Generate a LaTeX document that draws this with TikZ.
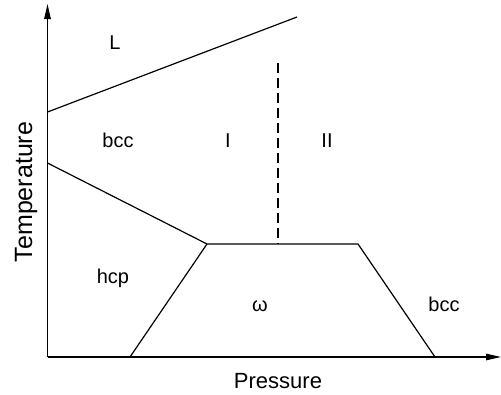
\documentclass[tikz,border=0pt]{standalone}
\usepackage{fontspec}
\setmainfont{Liberation Sans}
\usetikzlibrary{arrows.meta}
\begin{document}
\begin{tikzpicture}[x=1pt,y=-1pt,
  lbl/.style={font=\fontsize{20}{22}\selectfont, inner sep=0pt, anchor=base},
  axl/.style={font=\fontsize{22}{24}\selectfont, inner sep=0pt, anchor=base},
  ln/.style={line width=1.2pt},
  ax/.style={line width=1.2pt,-{Triangle[length=15pt,width=6.5pt]}}]
\useasboundingbox (0,0) rectangle (501,394);
\coordinate (O) at (47.5,357);
\coordinate (Ytop) at (47.5,4);
\coordinate (Xend) at (501,357);
\draw[ax] (O) -- (Ytop);
\draw[ax] (O) -- (Xend);
\coordinate (L1) at (47.5,112);
\coordinate (L2) at (297,17);
\coordinate (B1) at (47.5,163);
\coordinate (T1) at (207,244);
\coordinate (T2) at (358,244);
\coordinate (F1) at (130,357);
\coordinate (F2) at (435,357);
\coordinate (D1) at (278,63);
\coordinate (D2) at (278,244);
\draw[ln] (L1) -- (L2);
\draw[ln] (B1) -- (T1) -- (T2) -- (F2);
\draw[ln] (T1) -- (F1);
\draw[ln,dash pattern=on 10pt off 5pt] (D1) -- (D2);
\node[lbl] (l) at (115,49) {L};
\node[lbl] (bcc1) at (118,147) {bcc};
\node[lbl] (i) at (228,147) {I};
\node[lbl] (ii) at (327,147) {II};
\node[lbl] (hcp) at (113,283) {hcp};
\node[lbl] (w) at (260,311) {ω};
\node[lbl] (bcc2) at (444,311) {bcc};
\node[axl] (p) at (278,388) {Pressure};
\node[axl,rotate=90,font=\fontsize{25}{27}\selectfont] (t) at (32,192) {Temperature};
\end{tikzpicture}
\end{document}
